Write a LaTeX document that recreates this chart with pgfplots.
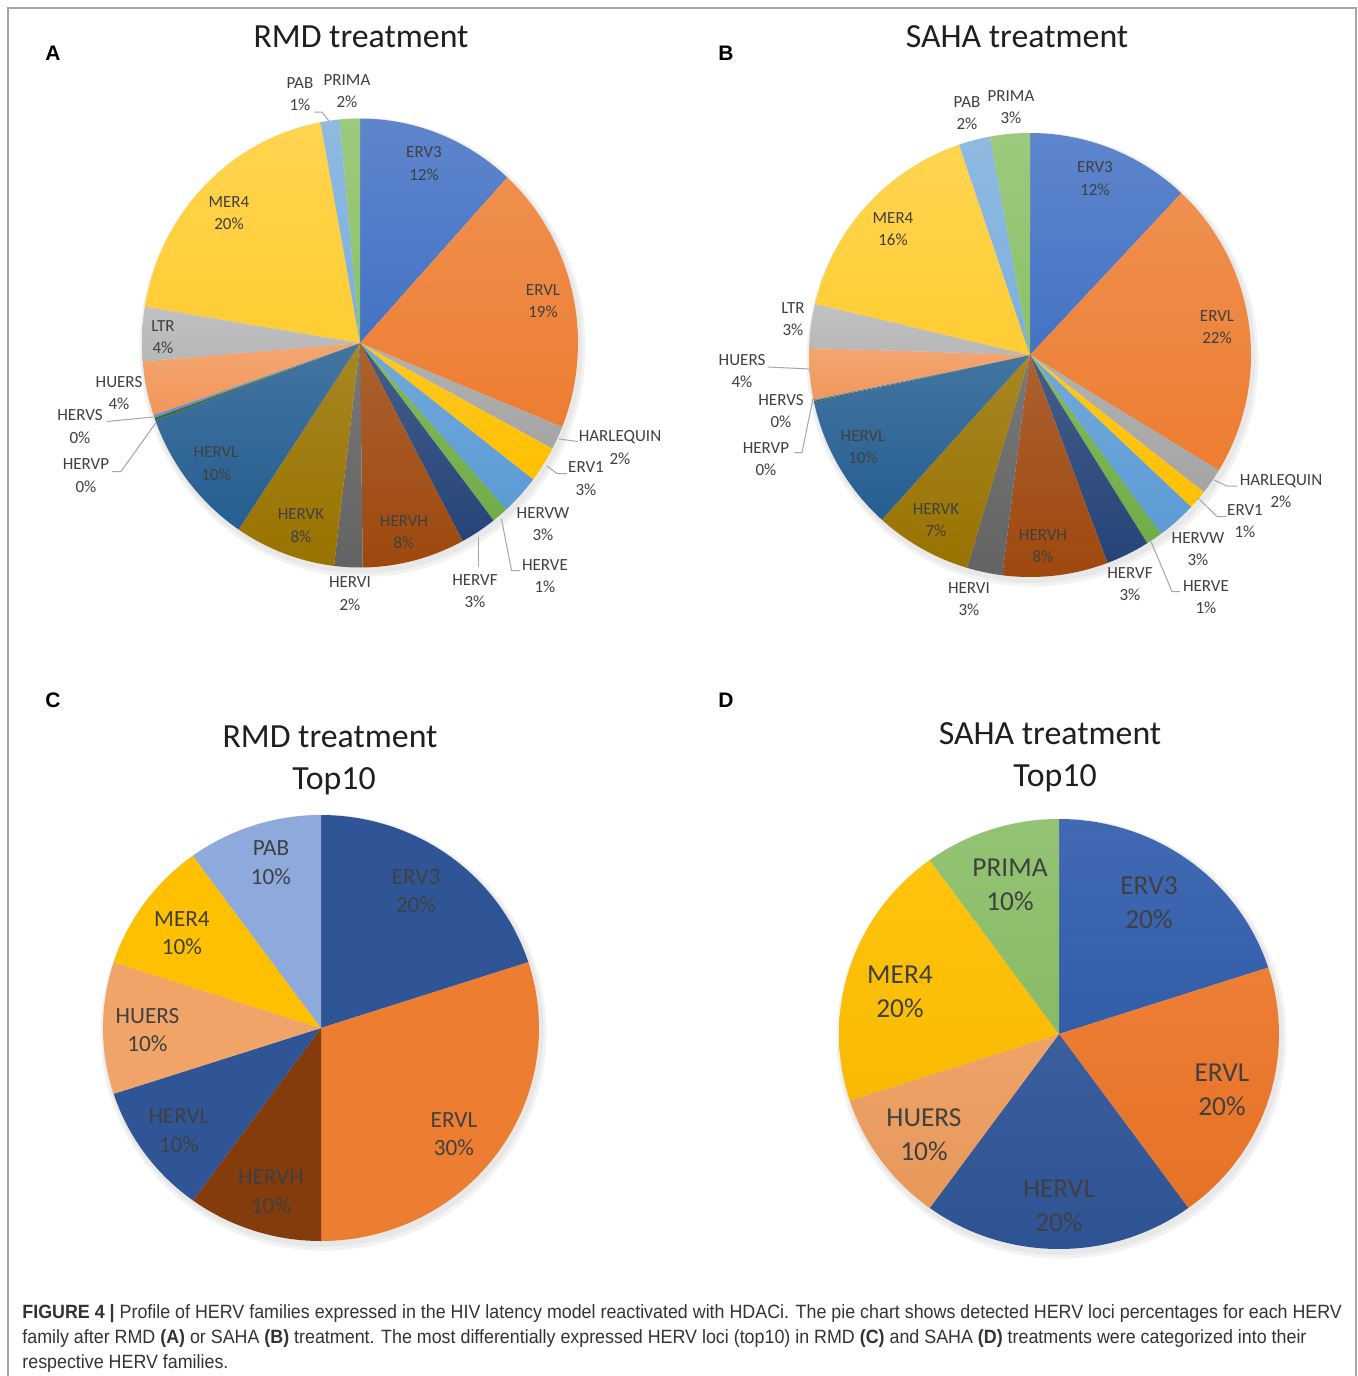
\documentclass[border=0pt]{standalone}
\usepackage{pgfplots}
\pgfplotsset{compat=1.18}
\usepackage{pgfplotstable}
\usepackage{fontspec}
\setmainfont{Carlito}
\newfontfamily\capfont{Liberation Sans}[FakeStretch=0.93]
\newfontfamily\letterfont{Liberation Sans}

% Office palette used for the family slices
\definecolor{cERV3}{HTML}{4472C4}
\definecolor{cERVL}{HTML}{ED7D31}
\definecolor{cHARL}{HTML}{A5A5A5}
\definecolor{cERV1}{HTML}{FFC000}
\definecolor{cHERVW}{HTML}{5B9BD5}
\definecolor{cHERVE}{HTML}{70AD47}
\definecolor{cHERVF}{HTML}{264478}
\definecolor{cHERVH}{HTML}{9E480E}
\definecolor{cHERVI}{HTML}{636363}
\definecolor{cHERVK}{HTML}{997300}
\definecolor{cHERVL}{HTML}{255E91}
\definecolor{cHERVP}{HTML}{43682B}
\definecolor{cHERVS}{HTML}{698ED0}
\definecolor{cHUERS}{HTML}{F1975A}
\definecolor{cLTR}{HTML}{B7B7B7}
\definecolor{cMER4}{HTML}{FFCD33}
\definecolor{cPAB}{HTML}{7CAFDD}
\definecolor{cPRIMA}{HTML}{8CC168}
% top-10 panels
\definecolor{tERV3}{HTML}{2F5597}
\definecolor{tERVL}{HTML}{ED7D31}
\definecolor{tHERVH}{HTML}{843C0C}
\definecolor{tHERVL}{HTML}{2F5597}
\definecolor{tHUERS}{HTML}{F1A468}
\definecolor{tMER4}{HTML}{FFC000}
\definecolor{tPAB}{HTML}{8EA9DB}
\definecolor{dERV3}{HTML}{3560AE}
\definecolor{dERVL}{HTML}{EC7628}
\definecolor{dHUERS}{HTML}{EE9D5E}
\definecolor{dPRIMA}{HTML}{8CC06A}
\definecolor{labgray}{HTML}{404040}
\definecolor{leader}{HTML}{A6A6A6}

% HERV families, RMD treatment (percent of detected loci)
\pgfplotstableread{
family    value col
ERV3      11.8  cERV3
ERVL      19.3  cERVL
HARLEQUIN 1.7   cHARL
ERV1      2.6   cERV1
HERVW     2.9   cHERVW
HERVE     1.2   cHERVE
HERVF     2.7   cHERVF
HERVH     7.6   cHERVH
HERVI     2.1   cHERVI
HERVK     7.5   cHERVK
HERVL     10.0  cHERVL
HERVP     0.2   cHERVP
HERVS     0.2   cHERVS
HUERS     3.9   cHUERS
LTR       3.9   cLTR
MER4      19.5  cMER4
PAB       1.4   cPAB
PRIMA     1.5   cPRIMA
}\rmdall

% HERV families, SAHA treatment
\pgfplotstableread{
family    value col
ERV3      12.0  cERV3
ERVL      21.7  cERVL
HARLEQUIN 1.9   cHARL
ERV1      1.4   cERV1
HERVW     2.9   cHERVW
HERVE     1.2   cHERVE
HERVF     3.2   cHERVF
HERVH     7.7   cHERVH
HERVI     2.6   cHERVI
HERVK     7.1   cHERVK
HERVL     9.9   cHERVL
HERVP     0.1   cHERVP
HERVS     0.1   cHERVS
HUERS     3.7   cHUERS
LTR       3.2   cLTR
MER4      16.1  cMER4
PAB       2.3   cPAB
PRIMA     2.9   cPRIMA
}\sahaall

% Top10 loci, RMD
\pgfplotstableread{
family value col
ERV3   20    tERV3
ERVL   30    tERVL
HERVH  10    tHERVH
HERVL  10    tHERVL
HUERS  10    tHUERS
MER4   10    tMER4
PAB    10    tPAB
}\rmdtop

% Top10 loci, SAHA
\pgfplotstableread{
family value col
ERV3   20    dERV3
ERVL   20    dERVL
HERVL  20    tHERVL
HUERS  10    dHUERS
MER4   20    tMER4
PRIMA  10    dPRIMA
}\sahatop

% slices clockwise from 12 o'clock; #2/#3 = tint of top/bottom of each slice
\newcommand{\pieslices}[3]{%
  \pgfplotstablegetrowsof{#1}%
  \pgfmathtruncatemacro\lastrow{\pgfplotsretval-1}%
  \gdef\piesum{0}%
  \foreach \r in {0,...,\lastrow}{%
    \pgfplotstablegetelem{\r}{value}\of{#1}%
    \pgfmathsetmacro\tmp{\piesum+\pgfplotsretval}%
    \xdef\piesum{\tmp}}%
  \gdef\piecum{0}%
  \foreach \r in {0,...,\lastrow}{%
    \pgfplotstablegetelem{\r}{value}\of{#1}\let\sval\pgfplotsretval
    \pgfplotstablegetelem{\r}{col}\of{#1}\let\scol\pgfplotsretval
    \pgfmathsetmacro\sa{\piecum/\piesum*360}%
    \pgfmathsetmacro\sb{(\piecum+\sval)/\piesum*360}%
    \pgfmathsetmacro\tmp{\piecum+\sval}%
    \xdef\piecum{\tmp}%
    \edef\slice{\noexpand\addplot[draw=none, top color=\scol!#2!white,
      bottom color=\scol!#3!black, domain=\sa:\sb, samples=90]
      ({sin(x)}, {cos(x)}) -- (axis cs:0,0) -- cycle;}%
    \slice
  }%
}

\pgfplotsset{
  pieaxis/.style={anchor=center, scale only axis, hide axis, clip=false,
    xmin=-1, xmax=1, ymin=-1, ymax=1},
}
\tikzset{
  lab/.style={font=\fontsize{8.5}{11.25}\selectfont, text=labgray, align=center, inner sep=0pt},
  labc/.style={font=\fontsize{11.6}{14.25}\selectfont, text=labgray, align=center, inner sep=0pt},
  labd/.style={font=\fontsize{13.7}{17}\selectfont, text=labgray, align=center, inner sep=0pt},
  ttl/.style={font=\fontsize{16.9}{20}\selectfont, text=black!88, inner sep=0pt},
  panel/.style={font=\letterfont\bfseries\fontsize{10.5}{12}\selectfont, inner sep=0pt},
  lead/.style={draw=leader, line width=0.5pt},
}

\begin{document}
\begin{tikzpicture}[x=0.5pt, y=-0.5pt]
\path[use as bounding box] (0,0) rectangle (1358,1376);
\fill[white] (0,0) rectangle (1358,1376);
\draw[gray!70, line width=1pt] (8,1376) -- (8,8) -- (1356,8) -- (1356,1376);

% soft shadows under the pies
\foreach \cx/\cy/\rx/\ry in {361/345/109/112.25, 1031/357/110.5/111, 322/1030/109/106.5, 1060/1036/110/107.5}{
  \fill[black!5] (\cx+1.5,\cy+2.5) ellipse [x radius=\rx pt+2.5pt, y radius=\ry pt+2.5pt];
  \fill[black!9] (\cx+1,\cy+1.5) ellipse [x radius=\rx pt+1.2pt, y radius=\ry pt+1.2pt];
}

\begin{axis}[pieaxis, at={(180pt,-171.5pt)}, width=218pt, height=224.5pt]
\pieslices{\rmdall}{86}{100}
\end{axis}
\begin{axis}[pieaxis, at={(515pt,-177.5pt)}, width=221pt, height=222pt]
\pieslices{\sahaall}{86}{100}
\end{axis}
\begin{axis}[pieaxis, at={(160.5pt,-514pt)}, width=218pt, height=213pt]
\pieslices{\rmdtop}{100}{100}
\end{axis}
\begin{axis}[pieaxis, at={(529.5pt,-517pt)}, width=220pt, height=215pt]
\pieslices{\sahatop}{94}{97}
\end{axis}

% panel letters and titles
\node[panel] at (53,53) {A};
\node[panel] at (726,53) {B};
\node[panel] at (53,700) {C};
\node[panel] at (726,700) {D};
\node[ttl] at (361,37) {RMD treatment};
\node[ttl] at (1017,37) {SAHA treatment};
\node[ttl] at (330,737) {RMD treatment};
\node[ttl] at (334,781) {Top10};
\node[ttl] at (1050,734) {SAHA treatment};
\node[ttl] at (1055,778) {Top10};

% leader lines, panel A
\draw[lead] (314,112) -- (322,112) -- (329,121);
\draw[lead] (107,421.5) -- (153,417);
\draw[lead] (112,471.5) -- (121,471.5) -- (156,422.5);
\draw[lead] (559,439) -- (578,441.5);
\draw[lead] (547,466) -- (557,473.5) -- (567,473.5);
\draw[lead] (478.5,537) -- (478.5,566.5);
\draw[lead] (501.5,519) -- (511.5,570.5) -- (520,570.5);
% leader lines, panel B
\draw[lead] (768,367) -- (810,369);
\draw[lead] (794,452.5) -- (802,452.5) -- (813,398.5);
\draw[lead] (1214,480) -- (1227,486) -- (1237,486);
\draw[lead] (1198,498) -- (1217,516.5) -- (1226,516.5);
\draw[lead] (1151,541.5) -- (1172,591.5) -- (1180,591.5);

% data labels, panel A
\node[lab] at (300,94) {PAB\\1\%};
\node[lab] at (347,91) {PRIMA\\2\%};
\node[lab] at (424,163.5) {ERV3\\12\%};
\node[lab] at (543,301) {ERVL\\19\%};
\node[lab] at (229,213) {MER4\\20\%};
\node[lab] at (163,337) {LTR\\4\%};
\node[lab] at (119,393) {HUERS\\4\%};
\node[lab] at (80,426.5) {HERVS\\0\%};
\node[lab] at (86,475.5) {HERVP\\0\%};
\node[lab] at (216,463.5) {HERVL\\10\%};
\node[lab] at (301,525.5) {HERVK\\8\%};
\node[lab] at (404,532) {HERVH\\8\%};
\node[lab] at (350,593.5) {HERVI\\2\%};
\node[lab] at (475,591) {HERVF\\3\%};
\node[lab] at (545,576) {HERVE\\1\%};
\node[lab] at (543,524) {HERVW\\3\%};
\node[lab] at (586,478.5) {ERV1\\3\%};
\node[lab] at (620,447.5) {HARLEQUIN\\2\%};

% data labels, panel B
\node[lab] at (967,113) {PAB\\2\%};
\node[lab] at (1011,107) {PRIMA\\3\%};
\node[lab] at (1095,178.5) {ERV3\\12\%};
\node[lab] at (1217,327) {ERVL\\22\%};
\node[lab] at (893,229) {MER4\\16\%};
\node[lab] at (793,319) {LTR\\3\%};
\node[lab] at (742,371) {HUERS\\4\%};
\node[lab] at (781,411) {HERVS\\0\%};
\node[lab] at (766,459) {HERVP\\0\%};
\node[lab] at (863,447) {HERVL\\10\%};
\node[lab] at (936,520) {HERVK\\7\%};
\node[lab] at (1043,546) {HERVH\\8\%};
\node[lab] at (969,599) {HERVI\\3\%};
\node[lab] at (1130,584) {HERVF\\3\%};
\node[lab] at (1206,597) {HERVE\\1\%};
\node[lab] at (1198,549) {HERVW\\3\%};
\node[lab] at (1245,521) {ERV1\\1\%};
\node[lab] at (1281,491) {HARLEQUIN\\2\%};

% data labels, panel C
\node[labc] at (271,862.5) {PAB\\10\%};
\node[labc] at (416,891) {ERV3\\20\%};
\node[labc] at (182,933) {MER4\\10\%};
\node[labc] at (147.5,1030) {HUERS\\10\%};
\node[labc] at (179,1130.5) {HERVL\\10\%};
\node[labc] at (271,1191.5) {HERVH\\10\%};
\node[labc] at (454,1134) {ERVL\\30\%};

% data labels, panel D
\node[labd] at (1010,885) {PRIMA\\10\%};
\node[labd] at (1149,903) {ERV3\\20\%};
\node[labd] at (900,992) {MER4\\20\%};
\node[labd] at (924,1135) {HUERS\\10\%};
\node[labd] at (1059,1205.5) {HERVL\\20\%};
\node[labd] at (1222,1089.5) {ERVL\\20\%};

% caption
\begin{scope}[every node/.style={anchor=base west, inner sep=0pt, text=black!80,
    font=\capfont\fontsize{9.6}{12}\selectfont}]
\node at (22,1318) {\textbf{FIGURE 4 |} Profile of HERV families expressed in the HIV latency model reactivated with HDACi. The pie chart shows detected HERV loci percentages for each HERV};
\node at (22,1343) {family after RMD \textbf{(A)} or SAHA \textbf{(B)} treatment. The most differentially expressed HERV loci (top10) in RMD \textbf{(C)} and SAHA \textbf{(D)} treatments were categorized into their};
\node at (22,1368) {respective HERV families.};
\end{scope}
\end{tikzpicture}
\end{document}
